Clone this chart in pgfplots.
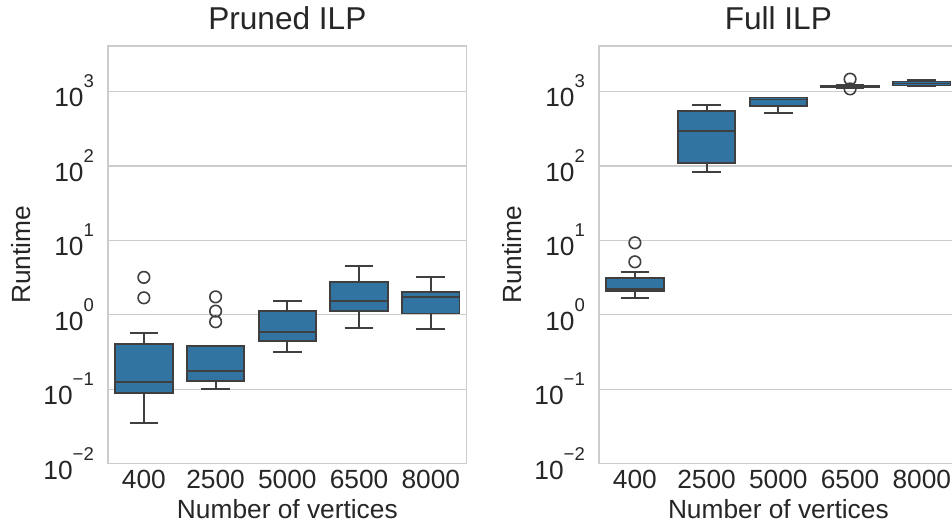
\documentclass[border=0pt]{standalone}
\usepackage{fontspec}
\setmainfont{Liberation Sans}
\usepackage{pgfplots}
\pgfplotsset{compat=1.18}
\usepgfplotslibrary{statistics}

\definecolor{boxblue}{HTML}{3274A1}
\definecolor{edgegray}{HTML}{3F3F3F}
\definecolor{gridgray}{HTML}{CCCCCC}
\definecolor{textgray}{HTML}{262626}

\newcommand{\sups}[1]{10\raisebox{19bp}{\fontsize{18.5bp}{18.5bp}\selectfont #1}}

\pgfplotsset{
  scale only axis, width=358.7bp, height=417.7bp,
  xmin=-0.5, xmax=4.5,
  xtick={0,1,2,3,4}, xticklabels={400,2500,5000,6500,8000},
  tick style={draw=none}, minor tick num=0,
  ymajorgrids, major grid style={gridgray, line width=1.3bp},
  axis line style={gridgray, line width=1.3bp},
  ticklabel style={font=\fontsize{26.3bp}{30bp}\selectfont, text=textgray},
  xticklabel style={anchor=base, inner sep=0pt, yshift=-24.3bp},
  yticklabel style={anchor=base east, inner sep=0pt, xshift=-14bp, yshift=-15.3bp},
  xlabel style={font=\fontsize{26.3bp}{30bp}\selectfont, text=textgray, at={(axis description cs:0.5,-0.130)}, anchor=base, inner sep=0pt},
  ylabel style={font=\fontsize{26.3bp}{30bp}\selectfont, text=textgray, at={(axis description cs:-0.2165,0.5)}, anchor=base, inner sep=0pt},
  title style={font=\fontsize{31.6bp}{36bp}\selectfont, text=textgray, at={(axis description cs:0.5,1.0263)}, anchor=base, inner sep=0pt},
  boxplot/draw direction=y,
  boxplot/box extend=0.8,
  boxplot/whisker extend=0.4,
}
\pgfplotsset{
 bx/.style={boxplot prepared={#1}, draw=edgegray, fill=boxblue, line width=1.9bp,
   mark=o, mark size=5.8bp, mark options={draw=edgegray, fill=none, line width=1.6bp, solid}},
}

\begin{document}
\begin{tikzpicture}
\begin{axis}[ymode=log, ymin=0.01, ymax=4070,
  ytick={0.01,0.1,1,10,100,1000},
  yticklabels={\sups{−2},\sups{−1},\sups{0},\sups{1},\sups{2},\sups{3}},
  at={(108bp,67.3bp)}, anchor=south west, title={Pruned ILP}, xlabel={Number of vertices}, ylabel={Runtime}]
\addplot[bx={draw position=0, lower whisker=0.0355, lower quartile=0.0897, median=0.125, upper quartile=0.404, upper whisker=0.573}]
  table[row sep=\\, y index=0] {3.18\\ 1.69\\};
\addplot[bx={draw position=1, lower whisker=0.0996, lower quartile=0.129, median=0.177, upper quartile=0.38, upper whisker=0.38}]
  table[row sep=\\, y index=0] {1.74\\ 1.12\\ 0.805\\};
\addplot[bx={draw position=2, lower whisker=0.319, lower quartile=0.448, median=0.591, upper quartile=1.13, upper whisker=1.53}]
  coordinates {};
\addplot[bx={draw position=3, lower whisker=0.67, lower quartile=1.13, median=1.54, upper quartile=2.72, upper whisker=4.51}]
  coordinates {};
\addplot[bx={draw position=4, lower whisker=0.636, lower quartile=1.04, median=1.74, upper quartile=2.0, upper whisker=3.24}]
  coordinates {};
\end{axis}

\begin{axis}[ymode=log, ymin=0.01, ymax=4070,
  ytick={0.01,0.1,1,10,100,1000},
  yticklabels={\sups{−2},\sups{−1},\sups{0},\sups{1},\sups{2},\sups{3}},
  at={(599bp,67.3bp)}, anchor=south west, title={Full ILP}, xlabel={Number of vertices}, ylabel={Runtime}]
\addplot[bx={draw position=0, lower whisker=1.69, lower quartile=2.08, median=2.19, upper quartile=3.14, upper whisker=3.78}]
  table[row sep=\\, y index=0] {9.25\\ 5.14\\};
\addplot[bx={draw position=1, lower whisker=83, lower quartile=110, median=292, upper quartile=542, upper whisker=659}]
  coordinates {};
\addplot[bx={draw position=2, lower whisker=514, lower quartile=639, median=778, upper quartile=828, upper whisker=828}]
  coordinates {};
\addplot[bx={draw position=3, lower whisker=1125, lower quartile=1140, median=1165, upper quartile=1190, upper whisker=1205}]
  table[row sep=\\, y index=0] {1460\\ 1080\\};
\addplot[bx={draw position=4, lower whisker=1175, lower quartile=1200, median=1277, upper quartile=1358, upper whisker=1440}]
  coordinates {};
\end{axis}
\pgfresetboundingbox
\path[use as bounding box] (0,0) rectangle (952bp,531bp);
\end{tikzpicture}
\end{document}
